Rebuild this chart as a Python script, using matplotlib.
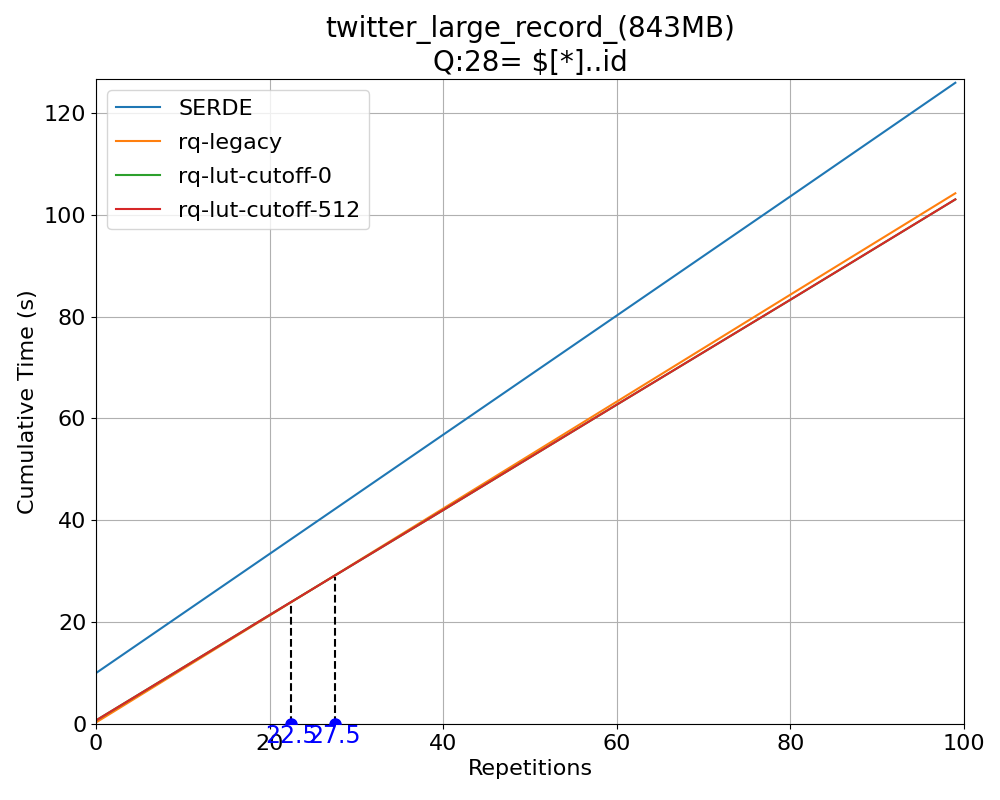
import matplotlib
matplotlib.use("Agg")
import matplotlib.pyplot as plt

# values (cumulative seconds at given repetitions)
reps = [0, 20, 40, 60, 80, 99]
serde = [10.0, 33.4, 56.8, 80.2, 103.6, 125.9]
rq_legacy = [0.3, 21.3, 42.3, 63.3, 84.3, 104.2]
rq_lut_0 = [0.7, 21.4, 42.0, 62.7, 83.3, 103.0]
rq_lut_512 = [0.7, 21.4, 42.0, 62.7, 83.3, 103.0]

names = ["SERDE", "rq-legacy", "rq-lut-cutoff-0", "rq-lut-cutoff-512"]
series = [serde, rq_legacy, rq_lut_0, rq_lut_512]

# crossing points marked with dashed lines
cross_x = [22.5, 27.5]
cross_y = [23.4, 28.9]

plt.rcParams["font.size"] = 16

fig, ax = plt.subplots(figsize=(10, 8), dpi=100)
fig.subplots_adjust(left=0.096, right=0.964, top=0.901, bottom=0.095)

for name, vals in zip(names, series):
    ax.plot(reps, vals, label=name)

for xc, yc in zip(cross_x, cross_y):
    ax.plot([xc, xc], [0, yc], color="black", linestyle="--")
    ax.text(xc, 0, f"{xc}", color="blue", ha="center", va="top", fontsize=17)
# dots sit on the x axis, clipped to the axes so only the top half shows
ax.scatter(cross_x, [0] * len(cross_x), s=64, color="blue", clip_on=True, zorder=3)

ax.set_xlim(0, 100)
ax.set_ylim(0, 126.6)
ax.set_xlabel("Repetitions")
ax.set_ylabel("Cumulative Time (s)")
ax.set_title("twitter_large_record_(843MB)\nQ:28= \\$[*]..id", fontsize=20)
ax.grid(True)
ax.legend(loc="upper left", labelspacing=0.62)

fig.savefig("out.png")
